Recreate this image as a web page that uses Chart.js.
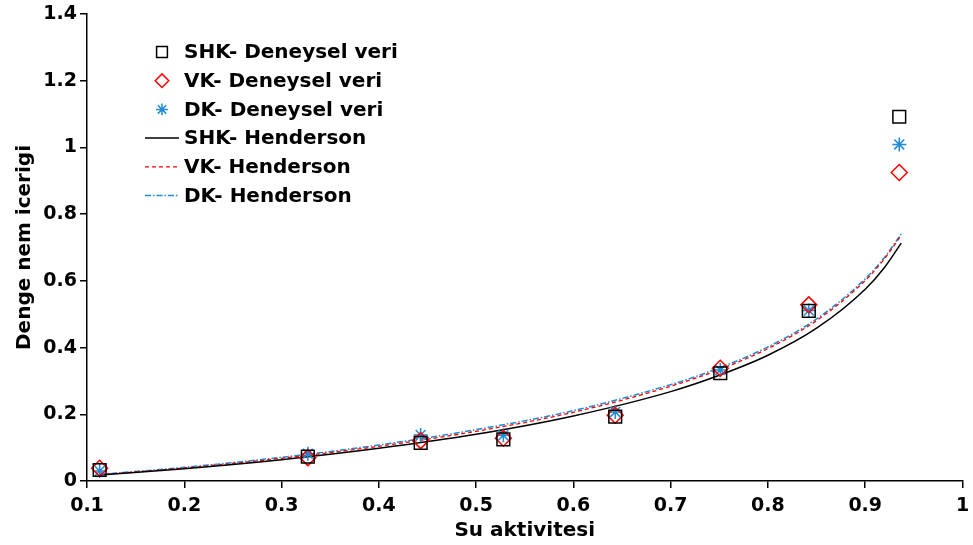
<!DOCTYPE html>
<html>
<head>
<meta charset="utf-8">
<script src="https://cdn.jsdelivr.net/npm/chart.js@4.4.0/dist/chart.umd.min.js"></script>
<style>
  html, body { margin: 0; padding: 0; background: #fff; }
  #wrap { width: 973px; height: 545px; }
</style>
</head>
<body>
<div id="wrap"><canvas id="chart" width="973" height="545"></canvas></div>
<script>
// measured points (water activity vs equilibrium moisture)
const xExp = [0.113, 0.327, 0.443, 0.528, 0.643, 0.751, 0.842, 0.935];
const shkExp = [0.033, 0.073, 0.114, 0.125, 0.193, 0.323, 0.510, 1.092];
const vkExp = [0.038, 0.070, 0.121, 0.128, 0.197, 0.338, 0.528, 0.925];
const dkExp = [0.030, 0.082, 0.138, 0.137, 0.207, 0.333, 0.511, 1.009];

// Henderson curves
const xFit = [0.113, 0.2, 0.3, 0.4, 0.5, 0.6, 0.7, 0.75, 0.8, 0.85, 0.9, 0.92, 0.937];
const shkFit = [0.018, 0.037, 0.064, 0.098, 0.140, 0.195, 0.268, 0.317, 0.377, 0.458, 0.575, 0.641, 0.713];
const vkFit = [0.019, 0.039, 0.068, 0.104, 0.149, 0.206, 0.284, 0.334, 0.397, 0.481, 0.601, 0.667, 0.737];
const dkFit = [0.020, 0.041, 0.071, 0.108, 0.154, 0.211, 0.289, 0.339, 0.402, 0.486, 0.606, 0.671, 0.741];

const xTicks = [0.1, 0.2, 0.3, 0.4, 0.5, 0.6, 0.7, 0.8, 0.9, 1];
const yTicks = [0, 0.2, 0.4, 0.6, 0.8, 1, 1.2, 1.4];

const labels = [
  "SHK- Deneysel veri", "VK- Deneysel veri", "DK- Deneysel veri",
  "SHK- Henderson", "VK- Henderson", "DK- Henderson"
];

const FONT = "'DejaVu Sans', sans-serif";
const pts = (xs, ys) => xs.map((x, i) => ({ x: x, y: ys[i] }));

function marker(label, data, style, color, radius) {
  return {
    label, data: pts(xExp, data), showLine: false,
    pointStyle: style, pointRadius: radius, pointBorderWidth: 1.5,
    pointBorderColor: color, pointBackgroundColor: "rgba(0,0,0,0)",
    borderColor: color, backgroundColor: "rgba(0,0,0,0)"
  };
}

function curve(label, data, color, width, dash) {
  return {
    label, data: pts(xFit, data), borderColor: color, borderWidth: width,
    borderDash: dash, pointRadius: 0, fill: false, cubicInterpolationMode: "monotone"
  };
}

const insideLegend = {
  id: "insideLegend",
  afterDraw(chart) {
    const ctx = chart.ctx;
    ctx.save();
    chart.data.datasets.forEach((ds, i) => {
      const y = 52 + i * 28.7;
      if (ds.showLine === false) {
        ctx.strokeStyle = ds.pointBorderColor;
        ctx.fillStyle = "rgba(0,0,0,0)";
        ctx.lineWidth = ds.pointBorderWidth;
        ctx.setLineDash([]);
        Chart.helpers.drawPoint(ctx, {
          pointStyle: ds.pointStyle, radius: ds.pointRadius * 0.85,
          borderWidth: ds.pointBorderWidth, rotation: 0
        }, 162, y);
      } else {
        ctx.strokeStyle = ds.borderColor;
        ctx.lineWidth = ds.borderWidth;
        ctx.setLineDash(ds.borderDash || []);
        ctx.beginPath();
        ctx.moveTo(145, y);
        ctx.lineTo(179, y);
        ctx.stroke();
      }
      ctx.fillStyle = "#000";
      ctx.font = "bold 20px " + FONT;
      ctx.textBaseline = "middle";
      ctx.textAlign = "left";
      ctx.fillText(labels[i], 184, y + 1);
    });
    ctx.restore();
  }
};

const chart = new Chart(document.getElementById("chart"), {
  type: "line",
  data: {
    datasets: [
      marker(labels[0], shkExp, "rect", "#000000", 9),
      marker(labels[1], vkExp, "rectRot", "#ff0000", 8),
      marker(labels[2], dkExp, "star", "#1f8ad6", 7),
      curve(labels[3], shkFit, "#000000", 1.5, []),
      curve(labels[4], vkFit, "#ff0000", 1.3, [4, 3]),
      curve(labels[5], dkFit, "#1f8ad6", 1.5, [6, 2, 1.5, 2])
    ]
  },
  options: {
    responsive: false,
    animation: false,
    devicePixelRatio: 1,
    layout: { padding: { top: 14, right: 10, left: 0, bottom: 0 } },
    plugins: { legend: { display: false }, tooltip: { enabled: false } },
    scales: {
      x: {
        type: "linear", min: 0.1, max: 1,
        afterBuildTicks: s => { s.ticks = xTicks.map(v => ({ value: v })); },
        afterFit: s => { s.height = 64; s.paddingRight = 0; s.paddingLeft = 0; },
        grid: { drawOnChartArea: false, drawTicks: true, tickLength: 7, color: "#000", lineWidth: 1.5 },
        border: { color: "#000", width: 1.5 },
        ticks: {
          color: "#000", padding: 7, maxRotation: 0,
          font: { family: FONT, size: 19, weight: "bold" },
          callback: v => String(+v.toFixed(1))
        },
        title: {
          display: true, text: "Su aktivitesi", color: "#000",
          font: { family: FONT, size: 20, weight: "bold" },
          padding: { top: 0, bottom: 2 }
        }
      },
      y: {
        type: "linear", min: 0, max: 1.4,
        afterBuildTicks: s => { s.ticks = yTicks.map(v => ({ value: v })); },
        afterFit: s => { s.width = 87; s.paddingTop = 0; s.paddingBottom = 0; },
        grid: { drawOnChartArea: false, drawTicks: true, tickLength: 7, color: "#000", lineWidth: 1.5 },
        border: { color: "#000", width: 1.5 },
        ticks: {
          color: "#000", padding: 3,
          font: { family: FONT, size: 19, weight: "bold" },
          callback: v => String(+v.toFixed(1))
        },
        title: {
          display: true, text: "Denge nem icerigi", color: "#000",
          font: { family: FONT, size: 20, weight: "bold" },
          padding: { top: 13, bottom: 0 }
        }
      }
    }
  },
  plugins: [insideLegend]
});
</script>
</body>
</html>
